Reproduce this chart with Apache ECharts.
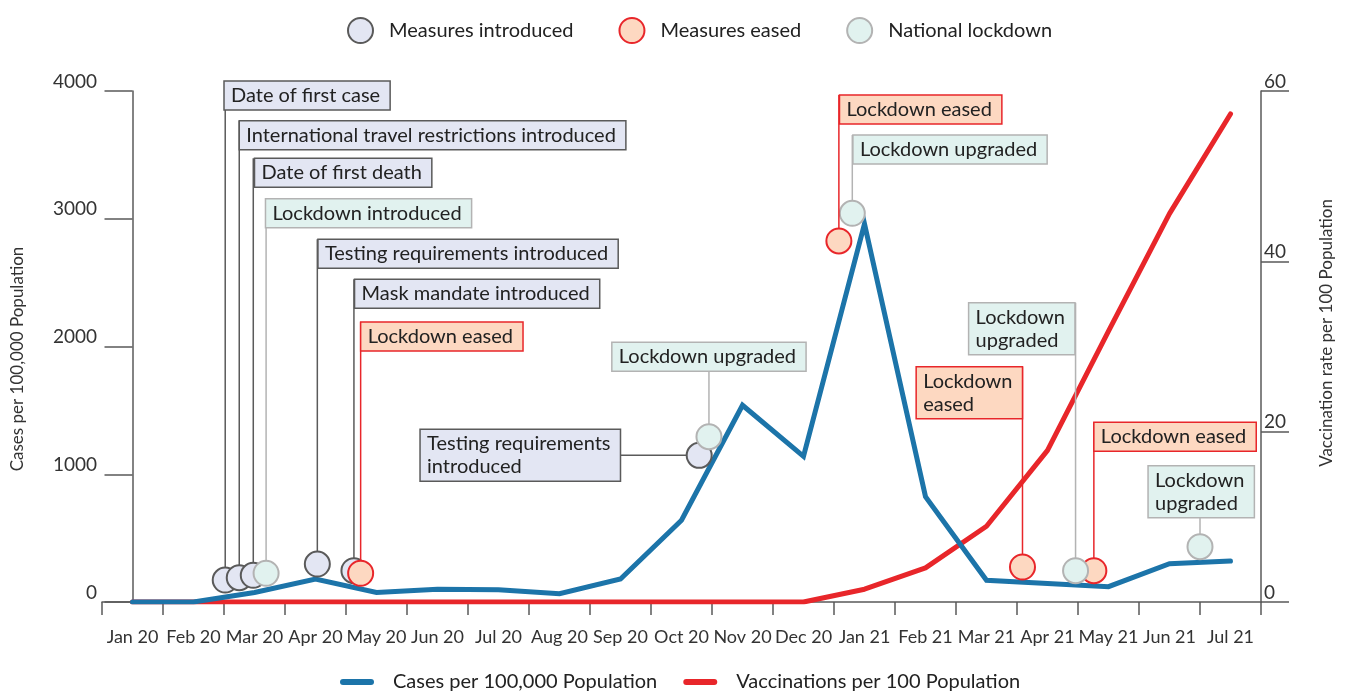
<!DOCTYPE html>
<html>
<head>
<meta charset="utf-8">
<script src="https://cdn.jsdelivr.net/npm/echarts@6/dist/echarts.min.js"></script>
<style>
html, body { margin: 0; padding: 0; background: #fff; }
#chart { width: 1346px; height: 693px; }
</style>
</head>
<body>
<div id="chart"></div>
<script>
// monthly series
const months = ['Jan 20', 'Feb 20', 'Mar 20', 'Apr 20', 'May 20', 'Jun 20', 'Jul 20', 'Aug 20', 'Sep 20',
  'Oct 20', 'Nov 20', 'Dec 20', 'Jan 21', 'Feb 21', 'Mar 21', 'Apr 21', 'May 21', 'Jun 21', 'Jul 21'];
const cases = [0, 0, 75, 180, 75, 100, 95, 65, 180, 640, 1540, 1140, 2960, 825, 170, 145, 120, 300, 320];
const vaccinations = [0, 0, 0, 0, 0, 0, 0, 0, 0, 0, 0, 0, 1.5, 4.0, 8.9, 17.8, 31.8, 45.6, 57.3];

// events: date as month index (0 = Jan 20), value on the cases scale
const eventDate = [1.52, 1.75, 1.98, 2.19, 3.03, 3.63, 3.74, 9.29, 9.45, 11.58, 11.80, 14.59, 15.46, 15.76, 17.50];
const eventCases = [172, 190, 209, 225, 297, 245, 225, 1148, 1294, 2826, 3043, 274, 245, 245, 433];
const eventType = ['introduced', 'introduced', 'introduced', 'lockdown', 'introduced', 'introduced', 'eased',
  'introduced', 'lockdown', 'eased', 'lockdown', 'eased', 'lockdown', 'eased', 'lockdown'];
const eventLabel = [
  'Date of first case',
  'International travel restrictions introduced',
  'Date of first death',
  'Lockdown introduced',
  'Testing requirements introduced',
  'Mask mandate introduced',
  'Lockdown eased',
  'Testing requirements\nintroduced',
  'Lockdown upgraded',
  'Lockdown eased',
  'Lockdown upgraded',
  'Lockdown\neased',
  'Lockdown\nupgraded',
  'Lockdown eased',
  'Lockdown\nupgraded'
];

// where each callout box sits: [date, cases, horizontal anchor, vertical anchor]
const calloutPlace = [
  [1.50, 4078, 'left', 'top'],
  [1.75, 3767, 'left', 'top'],
  [2.00, 3473, 'left', 'top'],
  [2.18, 3157, 'left', 'top'],
  [3.04, 2839, 'left', 'top'],
  [3.64, 2526, 'left', 'top'],
  [3.74, 2192, 'left', 'top'],
  [8.00, 1148, 'right', 'middle'],
  [9.45, 1806, 'center', 'bottom'],
  [11.59, 3969, 'left', 'top'],
  [11.81, 3656, 'left', 'top'],
  [14.59, 1842, 'right', 'top'],
  [15.45, 2343, 'right', 'top'],
  [15.76, 1407, 'left', 'top'],
  [17.52, 660, 'center', 'bottom']
];

const typeName = { introduced: 'Measures introduced', eased: 'Measures eased', lockdown: 'National lockdown' };
const typeStyle = {
  introduced: { fill: '#e3e6f3', stroke: '#5a5a5a' },
  eased: { fill: '#fdd8c1', stroke: '#e8262a' },
  lockdown: { fill: '#e1f2ef', stroke: '#b3b3b3' }
};

const BLUE = '#1c74a9';
const RED = '#e8262a';
const AXIS = '#5a5a5a';
const FONT = 'Lato';
const BOX_SIZE = 20, LINE_H = 23, PAD = [3, 10, 3, 7], R = 12.5;

const measure = document.createElement('canvas').getContext('2d');
function textWidth(s) {
  measure.font = BOX_SIZE + 'px ' + FONT;
  return measure.measureText(s).width;
}

function renderCallout(params, api) {
  const i = api.value(2);
  const st = typeStyle[eventType[i]];
  const place = calloutPlace[i];
  const mk = api.coord([api.value(0), api.value(1)]);
  const an = api.coord([place[0], place[1]]);
  const lines = eventLabel[i].split('\n');
  const w = Math.max.apply(null, lines.map(textWidth)) + PAD[1] + PAD[3];
  const h = lines.length * LINE_H + PAD[0] + PAD[2];
  const bx = an[0] - w * { left: 0, center: 0.5, right: 1 }[place[2]];
  const by = an[1] - h * { top: 0, middle: 0.5, bottom: 1 }[place[3]];
  let seg;
  if (place[3] === 'middle') seg = { x1: an[0], y1: mk[1], x2: mk[0] - R, y2: mk[1] };
  else seg = { x1: mk[0], y1: an[1], x2: mk[0], y2: mk[1] - R };
  return {
    type: 'group',
    children: [
      { type: 'line', shape: seg, style: { stroke: st.stroke, lineWidth: 1.5 } },
      { type: 'rect', shape: { x: bx, y: by, width: w, height: h },
        style: { fill: st.fill, stroke: st.stroke, lineWidth: 1.5 } },
      { type: 'text', x: bx + PAD[3], y: by + PAD[0],
        style: { text: eventLabel[i], fontSize: BOX_SIZE, fontFamily: FONT, fill: '#222',
          lineHeight: LINE_H, align: 'left', verticalAlign: 'top' } }
    ]
  };
}

function markerSeries(type) {
  const pts = [];
  eventType.forEach(function (t, i) {
    if (t === type) pts.push([eventDate[i], eventCases[i]]);
  });
  return {
    name: typeName[type],
    type: 'scatter',
    xAxisIndex: 1,
    yAxisIndex: 0,
    symbol: 'circle',
    symbolSize: 25,
    z: 4,
    itemStyle: { color: typeStyle[type].fill, borderColor: typeStyle[type].stroke, borderWidth: 2, opacity: 1 },
    emphasis: { disabled: true },
    data: pts
  };
}

const chart = echarts.init(document.getElementById('chart'));
chart.setOption({
  animation: false,
  textStyle: { fontFamily: FONT },
  grid: { left: 102, right: 85, top: 91, bottom: 91, containLabel: false },
  legend: [
    {
      data: ['Measures introduced', 'Measures eased', 'National lockdown'],
      icon: 'circle', itemWidth: 25, itemHeight: 25, itemGap: 45,
      left: 347, top: 17, padding: 0,
      textStyle: { fontSize: 20, color: '#222', padding: [0, 0, 0, 11] }
    },
    {
      data: ['Cases per 100,000 Population', 'Vaccinations per 100 Population'],
      icon: 'path://M3,0L31,0A3,3,0,0,1,31,6L3,6A3,3,0,0,1,3,0Z',
      itemWidth: 34, itemHeight: 6, itemGap: 26,
      left: 340, top: 672, padding: 0,
      textStyle: { fontSize: 20, color: '#222', padding: [0, 0, 0, 14] }
    }
  ],
  xAxis: [
    {
      type: 'category', data: months, boundaryGap: true,
      axisLine: { lineStyle: { color: AXIS, width: 1.5 } },
      axisTick: { show: true, interval: 0, length: 13, lineStyle: { color: AXIS, width: 1.5 } },
      axisLabel: { interval: 0, fontSize: 18, color: '#333', margin: 26 },
      splitLine: { show: false }
    },
    { type: 'value', min: -0.5, max: 18.5, show: false }
  ],
  yAxis: [
    {
      type: 'value', min: 0, max: 4000, interval: 1000,
      axisLine: { show: true, lineStyle: { color: AXIS, width: 1.5 } },
      axisTick: { show: true, length: 28, lineStyle: { color: AXIS, width: 1.5 } },
      axisLabel: { fontSize: 19, color: '#333', margin: 5, verticalAlign: 'bottom', align: 'right',
        formatter: function (v) { return String(v); } },
      splitLine: { show: false }
    },
    {
      type: 'value', min: 0, max: 60, interval: 20, position: 'right',
      axisLine: { show: true, lineStyle: { color: AXIS, width: 1.5 } },
      axisTick: { show: true, length: 28, lineStyle: { color: AXIS, width: 1.5 } },
      axisLabel: { fontSize: 19, color: '#333', margin: 3, verticalAlign: 'bottom', align: 'left' },
      splitLine: { show: false }
    }
  ],
  graphic: [
    { type: 'text', x: 18, y: 359, rotation: Math.PI / 2,
      style: { text: 'Cases per 100,000 Population', fontSize: 17, fontFamily: FONT, fill: '#333',
        align: 'center', verticalAlign: 'middle' } },
    { type: 'text', x: 1327, y: 333, rotation: Math.PI / 2,
      style: { text: 'Vaccination rate per 100 Population', fontSize: 17, fontFamily: FONT, fill: '#333',
        align: 'center', verticalAlign: 'middle' } }
  ],
  series: [
    {
      name: 'Vaccinations per 100 Population', type: 'line', yAxisIndex: 1,
      data: vaccinations, showSymbol: false, symbol: 'none', z: 2,
      itemStyle: { color: RED },
      lineStyle: { color: RED, width: 5, cap: 'round', join: 'round' }
    },
    {
      name: 'Cases per 100,000 Population', type: 'line', yAxisIndex: 0,
      data: cases, showSymbol: false, symbol: 'none', z: 3,
      itemStyle: { color: BLUE },
      lineStyle: { color: BLUE, width: 5, cap: 'round', join: 'miter' }
    },
    markerSeries('introduced'),
    markerSeries('eased'),
    markerSeries('lockdown'),
    {
      type: 'custom', xAxisIndex: 1, yAxisIndex: 0, z: 5,
      encode: { x: 0, y: 1 },
      renderItem: renderCallout,
      data: eventDate.map(function (d, i) { return [d, eventCases[i], i]; })
    }
  ]
});
</script>
</body>
</html>
